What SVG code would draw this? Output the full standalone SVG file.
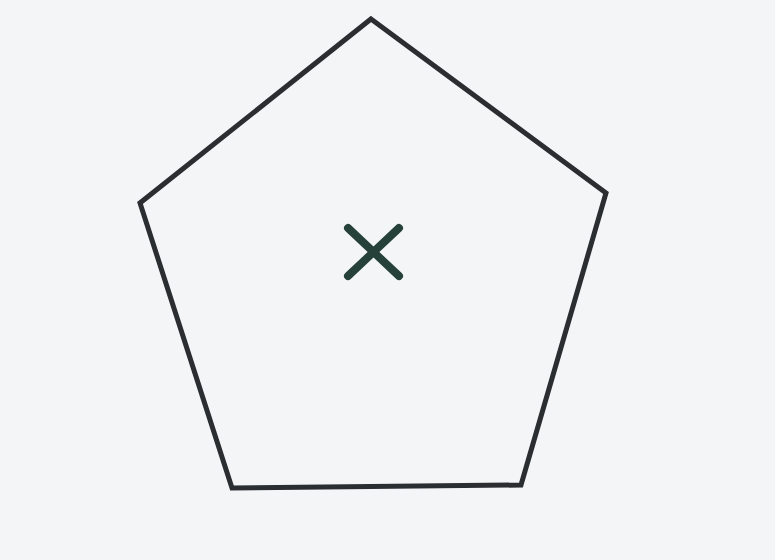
<svg xmlns="http://www.w3.org/2000/svg" width="775" height="560" viewBox="0 0 775 560">
<style>
.edge{fill:none;stroke:#2b2e31;stroke-width:5;stroke-linejoin:miter}
.mark{stroke:#26403a;stroke-width:8;stroke-linecap:round}
</style>
<rect width="775" height="560" fill="#f3f5f7"/>
<g id="pentagon">
<polygon class="edge" points="371,19 606,193 521,485 232,488 140,203"/>
</g>
<g id="center-mark">
<line class="mark" x1="348" y1="228" x2="399" y2="276"/>
<line class="mark" x1="399" y1="228" x2="348" y2="276"/>
</g>
</svg>
